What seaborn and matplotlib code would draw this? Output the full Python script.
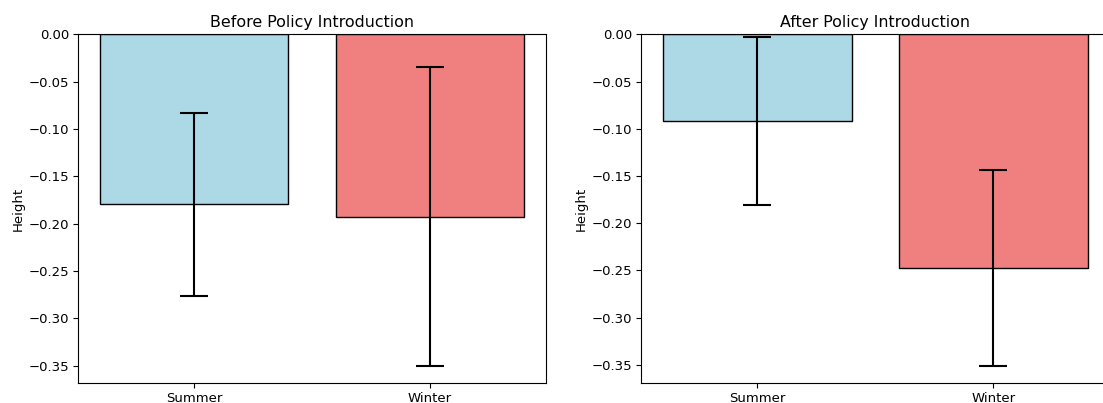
import numpy as np
import pandas as pd
import matplotlib
matplotlib.use("Agg")
import matplotlib.pyplot as plt
import seaborn as sns

seasons = ["Summer", "Winter"]
before_mean = [-0.1795, -0.1925]
before_err = [0.0965, 0.158]
after_mean = [-0.0917, -0.2475]
after_err = [0.0889, 0.1039]
colors = ["#ADD8E6", "#F08080"]
titles = ["Before Policy Introduction", "After Policy Introduction"]

plt.rcParams["font.family"] = ["DejaVu Sans"]
plt.rcParams["axes.linewidth"] = 0.8

fig = plt.figure(figsize=(11.03, 4.03), dpi=100)
W, H = 1103, 403
ax1 = fig.add_axes([78.3 / W, 1 - 382.7 / H, (545.6 - 78.3) / W, (382.7 - 34.3) / H])
ax2 = fig.add_axes([641.3 / W, 1 - 382.7 / H, (1109 - 641.3) / W, (382.7 - 34.3) / H])

for ax, means, errs, title in zip([ax1, ax2], [before_mean, after_mean],
                                  [before_err, after_err], titles):
    df = pd.DataFrame({"Season": seasons, "Height": means})
    sns.barplot(data=df, x="Season", y="Height", hue="Season",
                palette=colors, edgecolor="black", linewidth=1.0,
                errorbar=None, legend=False, ax=ax, width=0.8, saturation=1)
    ax.errorbar(np.arange(len(seasons)), means, yerr=errs, fmt="none",
                ecolor="black", elinewidth=1.5, capsize=10, capthick=1.5)
    ax.set_title(title, fontsize=11.4, pad=5.5)
    ax.set_xlabel("")
    ax.set_ylabel("Height", fontsize=9.5, labelpad=3)
    ax.tick_params(axis="both", labelsize=9.5, length=3.3, width=0.8, pad=3.2)
    ax.set_xlim(-0.49, 1.49)
    ax.margins(y=0.05)

fig.savefig("out.png", dpi=100)
